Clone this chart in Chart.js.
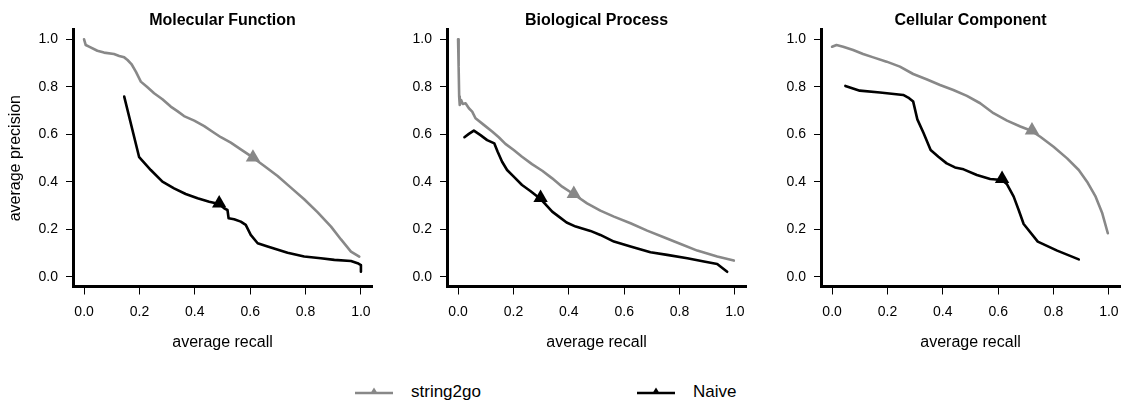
<!DOCTYPE html>
<html>
<head>
<meta charset="utf-8">
<script src="https://cdn.jsdelivr.net/npm/chart.js@4/dist/chart.umd.min.js"></script>
<style>
  html, body { margin: 0; padding: 0; background: #fff; }
  body { width: 1122px; height: 402px; position: relative; overflow: hidden; font-family: "Liberation Sans", Arial, sans-serif; }
  canvas.panel { position: absolute; top: 0; }
  .legend { position: absolute; top: 380px; height: 24px; display: flex; align-items: center; font-size: 17px; color: #000; }
  .legend svg { margin-right: 17px; }
</style>
</head>
<body>
<canvas id="c1" class="panel" width="374" height="360" style="left:0px"></canvas>
<canvas id="c2" class="panel" width="374" height="360" style="left:374px"></canvas>
<canvas id="c3" class="panel" width="374" height="360" style="left:748px"></canvas>
<div class="legend" style="left:354px">
  <svg width="40" height="12"><line x1="1" y1="7" x2="39" y2="7" stroke="#888888" stroke-width="2.5"/><polygon points="20,1.5 24,8 16,8" fill="#888888"/></svg><span>string2go</span>
</div>
<div class="legend" style="left:636px">
  <svg width="40" height="12"><line x1="1" y1="7" x2="39" y2="7" stroke="#000000" stroke-width="2.5"/><polygon points="20,1.5 24,8 16,8" fill="#000000"/></svg><span>Naive</span>
</div>
<script>
// ---- data ----
const panelTitles = ['Molecular Function', 'Biological Process', 'Cellular Component'];
const seriesNames = ['string2go', 'Naive'];
const tickValues = [0, 0.2, 0.4, 0.6, 0.8, 1.0];
const tickLabels = ['0.0', '0.2', '0.4', '0.6', '0.8', '1.0'];

// Molecular Function
const mfStringRecall = [0.0, 0.006, 0.018, 0.048, 0.072, 0.108, 0.127, 0.145, 0.157, 0.171, 0.187, 0.205, 0.229, 0.253, 0.283, 0.313, 0.337, 0.361, 0.398, 0.434, 0.464, 0.494, 0.530, 0.566, 0.608, 0.651, 0.699, 0.747, 0.795, 0.843, 0.892, 0.928, 0.964, 0.994];
const mfStringPrecision = [1.0, 0.976, 0.969, 0.952, 0.944, 0.938, 0.930, 0.924, 0.913, 0.896, 0.864, 0.822, 0.798, 0.773, 0.748, 0.717, 0.698, 0.677, 0.658, 0.635, 0.611, 0.588, 0.565, 0.537, 0.504, 0.467, 0.425, 0.376, 0.327, 0.273, 0.212, 0.158, 0.107, 0.086];
const mfNaiveRecall = [0.145, 0.199, 0.241, 0.283, 0.325, 0.367, 0.410, 0.452, 0.488, 0.506, 0.518, 0.522, 0.542, 0.566, 0.584, 0.602, 0.627, 0.663, 0.735, 0.795, 0.855, 0.904, 0.964, 0.988, 1.0, 1.0];
const mfNaivePrecision = [0.759, 0.504, 0.450, 0.401, 0.373, 0.349, 0.331, 0.317, 0.307, 0.289, 0.282, 0.247, 0.243, 0.233, 0.219, 0.177, 0.142, 0.128, 0.102, 0.086, 0.079, 0.072, 0.067, 0.058, 0.050, 0.022];
const mfMarkers = [[0.610, 0.503], [0.488, 0.310]];

// Biological Process
const bpStringRecall = [0.0, 0.002, 0.004, 0.006, 0.011, 0.017, 0.027, 0.039, 0.051, 0.063, 0.093, 0.123, 0.147, 0.171, 0.201, 0.231, 0.267, 0.304, 0.340, 0.376, 0.418, 0.466, 0.514, 0.563, 0.623, 0.683, 0.743, 0.804, 0.864, 0.936, 0.996];
const bpStringPrecision = [1.0, 0.885, 0.759, 0.724, 0.745, 0.728, 0.731, 0.710, 0.696, 0.668, 0.640, 0.612, 0.588, 0.560, 0.534, 0.506, 0.475, 0.447, 0.415, 0.380, 0.348, 0.310, 0.279, 0.254, 0.226, 0.195, 0.167, 0.139, 0.111, 0.086, 0.069];
const bpNaiveRecall = [0.023, 0.039, 0.057, 0.081, 0.105, 0.131, 0.143, 0.159, 0.177, 0.201, 0.231, 0.261, 0.298, 0.316, 0.340, 0.364, 0.392, 0.425, 0.478, 0.514, 0.563, 0.623, 0.695, 0.755, 0.828, 0.888, 0.936, 0.972];
const bpNaivePrecision = [0.588, 0.602, 0.616, 0.597, 0.576, 0.562, 0.527, 0.485, 0.450, 0.422, 0.387, 0.362, 0.328, 0.306, 0.275, 0.254, 0.229, 0.212, 0.194, 0.177, 0.149, 0.128, 0.104, 0.093, 0.079, 0.065, 0.055, 0.022];
const bpMarkers = [[0.418, 0.350], [0.298, 0.333]];

// Cellular Component
const ccStringRecall = [0.0, 0.016, 0.040, 0.076, 0.112, 0.149, 0.197, 0.245, 0.293, 0.341, 0.390, 0.438, 0.487, 0.535, 0.583, 0.632, 0.680, 0.722, 0.752, 0.800, 0.849, 0.891, 0.921, 0.952, 0.976, 0.996];
const ccStringPrecision = [0.969, 0.976, 0.969, 0.955, 0.938, 0.924, 0.906, 0.885, 0.854, 0.832, 0.808, 0.787, 0.762, 0.731, 0.689, 0.658, 0.633, 0.614, 0.590, 0.548, 0.499, 0.450, 0.401, 0.338, 0.268, 0.184];
const ccNaiveRecall = [0.048, 0.100, 0.173, 0.257, 0.275, 0.293, 0.308, 0.330, 0.356, 0.384, 0.414, 0.444, 0.475, 0.523, 0.571, 0.614, 0.632, 0.656, 0.674, 0.692, 0.743, 0.813, 0.891];
const ccNaivePrecision = [0.804, 0.784, 0.776, 0.766, 0.755, 0.738, 0.663, 0.607, 0.534, 0.506, 0.478, 0.461, 0.453, 0.429, 0.412, 0.408, 0.390, 0.338, 0.282, 0.223, 0.149, 0.111, 0.074];
const ccMarkers = [[0.722, 0.617], [0.614, 0.413]];

const seriesColors = ['#888888', '#000000'];

// ---- drawing ----
Chart.defaults.color = '#000';
Chart.defaults.font.family = '"Liberation Sans", Arial, sans-serif';

const panels = [
  { id: 'c1', title: panelTitles[0], s: [mfStringRecall, mfStringPrecision], n: [mfNaiveRecall, mfNaivePrecision], m: mfMarkers, yTitle: true },
  { id: 'c2', title: panelTitles[1], s: [bpStringRecall, bpStringPrecision], n: [bpNaiveRecall, bpNaivePrecision], m: bpMarkers, yTitle: false },
  { id: 'c3', title: panelTitles[2], s: [ccStringRecall, ccStringPrecision], n: [ccNaiveRecall, ccNaivePrecision], m: ccMarkers, yTitle: false }
];

function pts(xs, ys) { return xs.map((x, i) => ({ x: x, y: ys[i] })); }
function setTicks(scale) { scale.ticks = tickValues.map(v => ({ value: v })); }
const fmt = (v) => tickLabels[tickValues.findIndex(t => Math.abs(t - v) < 1e-9)];

// keep the plot region's right edge 2px from the canvas edge (like the reference)
const fixArea = {
  id: 'fixArea',
  afterLayout(chart) {
    try {
      const right = chart.width - 2;
      const ca = chart.chartArea;
      ca.right = right; ca.width = right - ca.left;
      const x = chart.scales.x;
      x.right = right; x.width = right - x.left;
      x.configure();
      const tb = chart.titleBlock;
      if (tb) { tb.left = ca.left; tb.right = right; tb.width = ca.width; }
    } catch (e) {}
  }
};

panels.forEach(p => {
  const lineDs = (name, arr, color) => ({
    type: 'line', label: name, data: pts(arr[0], arr[1]),
    borderColor: color, backgroundColor: color, borderWidth: 2.6,
    pointRadius: 0, tension: 0, fill: false,
    borderJoinStyle: 'round', borderCapStyle: 'round'
  });
  const markDs = (name, mk, color) => ({
    type: 'scatter', label: name + ' marker', data: [{ x: mk[0], y: mk[1] }],
    pointStyle: 'triangle', pointRadius: 8.3, borderWidth: 0,
    backgroundColor: color, borderColor: color
  });
  new Chart(document.getElementById(p.id), {
    type: 'line',
    plugins: [fixArea],
    data: {
      datasets: [
        lineDs(seriesNames[0], p.s, seriesColors[0]),
        lineDs(seriesNames[1], p.n, seriesColors[1]),
        markDs(seriesNames[0], p.m[0], seriesColors[0]),
        markDs(seriesNames[1], p.m[1], seriesColors[1])
      ]
    },
    options: {
      responsive: false, animation: false, events: [],
      layout: { padding: { left: 0, right: 2, top: 0, bottom: 0 } },
      plugins: {
        legend: { display: false },
        tooltip: { enabled: false },
        title: {
          display: true, text: p.title, fullSize: false,
          font: { size: 16, weight: 'bold', lineHeight: 1 },
          color: '#000', padding: { top: 13, bottom: 0.8 }
        }
      },
      scales: {
        x: {
          type: 'linear', min: -0.04, max: 1.04,
          afterBuildTicks: setTicks,
          afterFit: s => { s.height = 73.5; },
          border: { display: true, width: 3, color: '#000' },
          grid: { display: true, drawOnChartArea: false, drawTicks: true, tickLength: 8, tickWidth: 1, tickColor: '#000' },
          ticks: { padding: 0, font: { size: 14, lineHeight: 2.5 }, color: '#000', maxRotation: 0, callback: fmt },
          title: { display: true, text: 'average recall', font: { size: 16 }, color: '#000', padding: { top: 0, bottom: 7.4 } }
        },
        y: {
          type: 'linear', min: -0.04, max: 1.04,
          afterBuildTicks: setTicks,
          afterFit: s => { s.width = 73; },
          border: { display: true, width: 3, color: '#000' },
          grid: { display: true, drawOnChartArea: false, drawTicks: true, tickLength: 7, tickWidth: 1, tickColor: '#000' },
          ticks: { padding: 8, font: { size: 14 }, color: '#000', callback: fmt },
          title: { display: p.yTitle, text: 'average precision', font: { size: 16 }, color: '#000', padding: { top: 6, bottom: 0 } }
        }
      }
    }
  });
});
</script>
</body>
</html>
